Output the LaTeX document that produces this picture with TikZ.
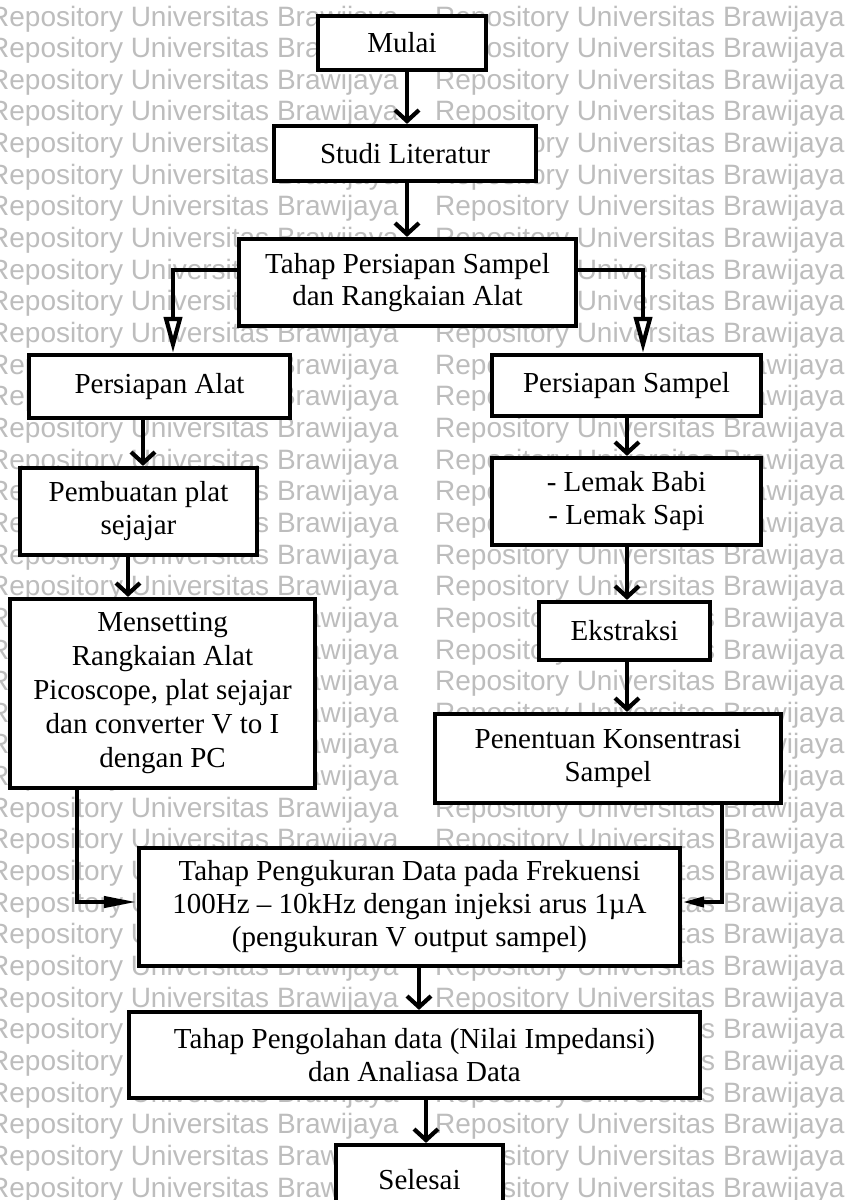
\documentclass[tikz,border=0pt]{standalone}
\usepackage{fontspec}
\setmainfont{Liberation Serif}
\newfontfamily\wmfont{Liberation Sans}
\usetikzlibrary{arrows.meta}
\definecolor{wm}{gray}{0.74}
\begin{document}
\begin{tikzpicture}[x=1pt,y=-1pt,
  box/.style={draw=black, line width=4.2pt, fill=white, align=center, inner sep=0pt,
    font=\fontsize{29}{33}\selectfont},
  wmtext/.style={font=\wmfont\fontsize{28}{28}\selectfont, text=wm, inner sep=0pt, anchor=base west},
  conn/.style={line width=4.2pt, -{Straight Barb[length=11pt,width=24pt]}},
  openarr/.style={line width=4.2pt, -{Triangle[length=36pt,width=18pt,fill=white]}},
  sidearrL/.style={line width=4.2pt, -{Triangle[length=33pt,width=11pt]}},
  sidearrR/.style={line width=4.2pt, -{Triangle[length=22pt,width=10pt]}}]
\clip (0,0) rectangle (851,1200);
\fill[white] (0,0) rectangle (851,1200);
% watermark
\foreach \k in {-1,...,37} {
  \node[wmtext] (wmL\k) at (-11, 26+31.65*\k) {Repository Universitas Brawijaya};
  \node[wmtext] (wmR\k) at (435, 26+31.65*\k) {Repository Universitas Brawijaya};
}
% boxes
\node[box, minimum width=168, minimum height=54] (mulai) at (402,43) {Mulai};
\node[box, minimum width=262, minimum height=55] (studi) at (405,153.5) {Studi Literatur};
\node[box, minimum width=337, minimum height=87, font=\fontsize{29}{32}\selectfont] (tahap) at (407.5,282.5) {Tahap Persiapan Sampel\\dan Rangkaian Alat};
\node[box, minimum width=261, minimum height=63] (alat) at (159.5,386.5) {Persiapan Alat};
\node[box, minimum width=269, minimum height=61] (sampel) at (626.5,385.5) {Persiapan Sampel};
\node[box, minimum width=237, minimum height=87] (pembuatan) at (138.5,511.5) {Pembuatan plat\\sejajar};
\node[box, minimum width=269, minimum height=87] (lemak) at (626.5,501.5) {- Lemak Babi\\- Lemak Sapi};
\node[box, minimum width=305, minimum height=189, font=\fontsize{29}{34}\selectfont] (mensetting) at (162.5,693.5) {Mensetting\\Rangkaian Alat\\Picoscope, plat sejajar\\dan converter V to I\\dengan PC};
\node[box, minimum width=171, minimum height=58] (ekstraksi) at (624.5,631) {Ekstraksi};
\node[box, minimum width=346, minimum height=89] (penentuan) at (608,758.5) {Penentuan Konsentrasi\\Sampel};
\node[box, minimum width=541, minimum height=118] (pengukuran) at (409.5,907) {Tahap Pengukuran Data pada Frekuensi\\100Hz – 10kHz dengan injeksi arus 1µA\\(pengukuran V output sampel)};
\node[box, minimum width=571, minimum height=86] (pengolahan) at (414.5,1055) {Tahap Pengolahan data (Nilai Impedansi)\\dan Analiasa Data};
\node[box, minimum width=167, minimum height=70] (selesai) at (419.5,1180) {Selesai};
% lanes
\coordinate (c407) at (407,0);
\coordinate (c173) at (173,0);
\coordinate (c643) at (643,0);
\coordinate (c143) at (143,0);
\coordinate (c128) at (128,0);
\coordinate (c627) at (627,0);
\coordinate (c77) at (77,0);
\coordinate (c722) at (722,0);
\coordinate (c419) at (419,0);
\coordinate (c426) at (426,0);
\coordinate (y270) at (0,270);
\coordinate (y902) at (0,902);
% connectors
\draw[conn] (mulai.south -| c407) -- (studi.north -| c407);
\draw[conn] (studi.south -| c407) -- (tahap.north -| c407);
\draw[openarr] (tahap.west |- y270) -| (alat.north -| c173);
\draw[openarr] (tahap.east |- y270) -| (sampel.north -| c643);
\draw[conn] (alat.south -| c143) -- (pembuatan.north -| c143);
\draw[conn] (pembuatan.south -| c128) -- (mensetting.north -| c128);
\draw[conn] (sampel.south -| c627) -- (lemak.north -| c627);
\draw[conn] (lemak.south -| c627) -- (ekstraksi.north -| c627);
\draw[conn] (ekstraksi.south -| c627) -- (penentuan.north -| c627);
\draw[sidearrL] (mensetting.south -| c77) |- (pengukuran.west |- y902);
\draw[sidearrR] (penentuan.south -| c722) |- (pengukuran.east |- y902);
\draw[conn] (pengukuran.south -| c419) -- (pengolahan.north -| c419);
\draw[conn] (pengolahan.south -| c426) -- (selesai.north -| c426);
\end{tikzpicture}
\end{document}
